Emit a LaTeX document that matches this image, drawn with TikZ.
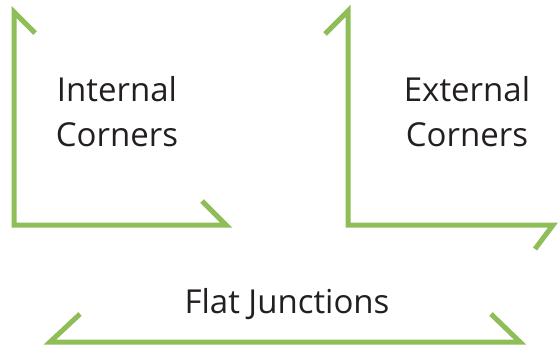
\documentclass[tikz,border=0pt]{standalone}
\usepackage{fontspec}
\setmainfont{Open Sans}
\definecolor{trimgreen}{RGB}{143,189,88}
\definecolor{labelgray}{RGB}{35,31,32}
\tikzset{
    trim/.style={draw=trimgreen, line width=5pt, line join=miter},
    caption/.style={text=labelgray, align=center, inner sep=0pt,
        font=\fontsize{33}{45}\selectfont}
}
\begin{document}
\begin{tikzpicture}[x=1pt, y=-1pt]
    \useasboundingbox (0,0) rectangle (559,351);

    % Internal corner trim
    \draw[trim] (35,33) -- (14,12) -- (14,225) -- (226,225) -- (202,201);
    \node[caption] (internal) at (117,112) {Internal\\Corners};

    % External corner trim
    \draw[trim] (325,34) -- (348,11) -- (348,225) -- (553,225) -- (535,249);
    \node[caption] (external) at (467,112) {External\\Corners};

    % Flat junction trim
    \draw[trim] (80,314) -- (50,342) -- (520,342) -- (491,314);
    \node[caption, anchor=base] (flat) at (287,313) {Flat Junctions};
\end{tikzpicture}
\end{document}
